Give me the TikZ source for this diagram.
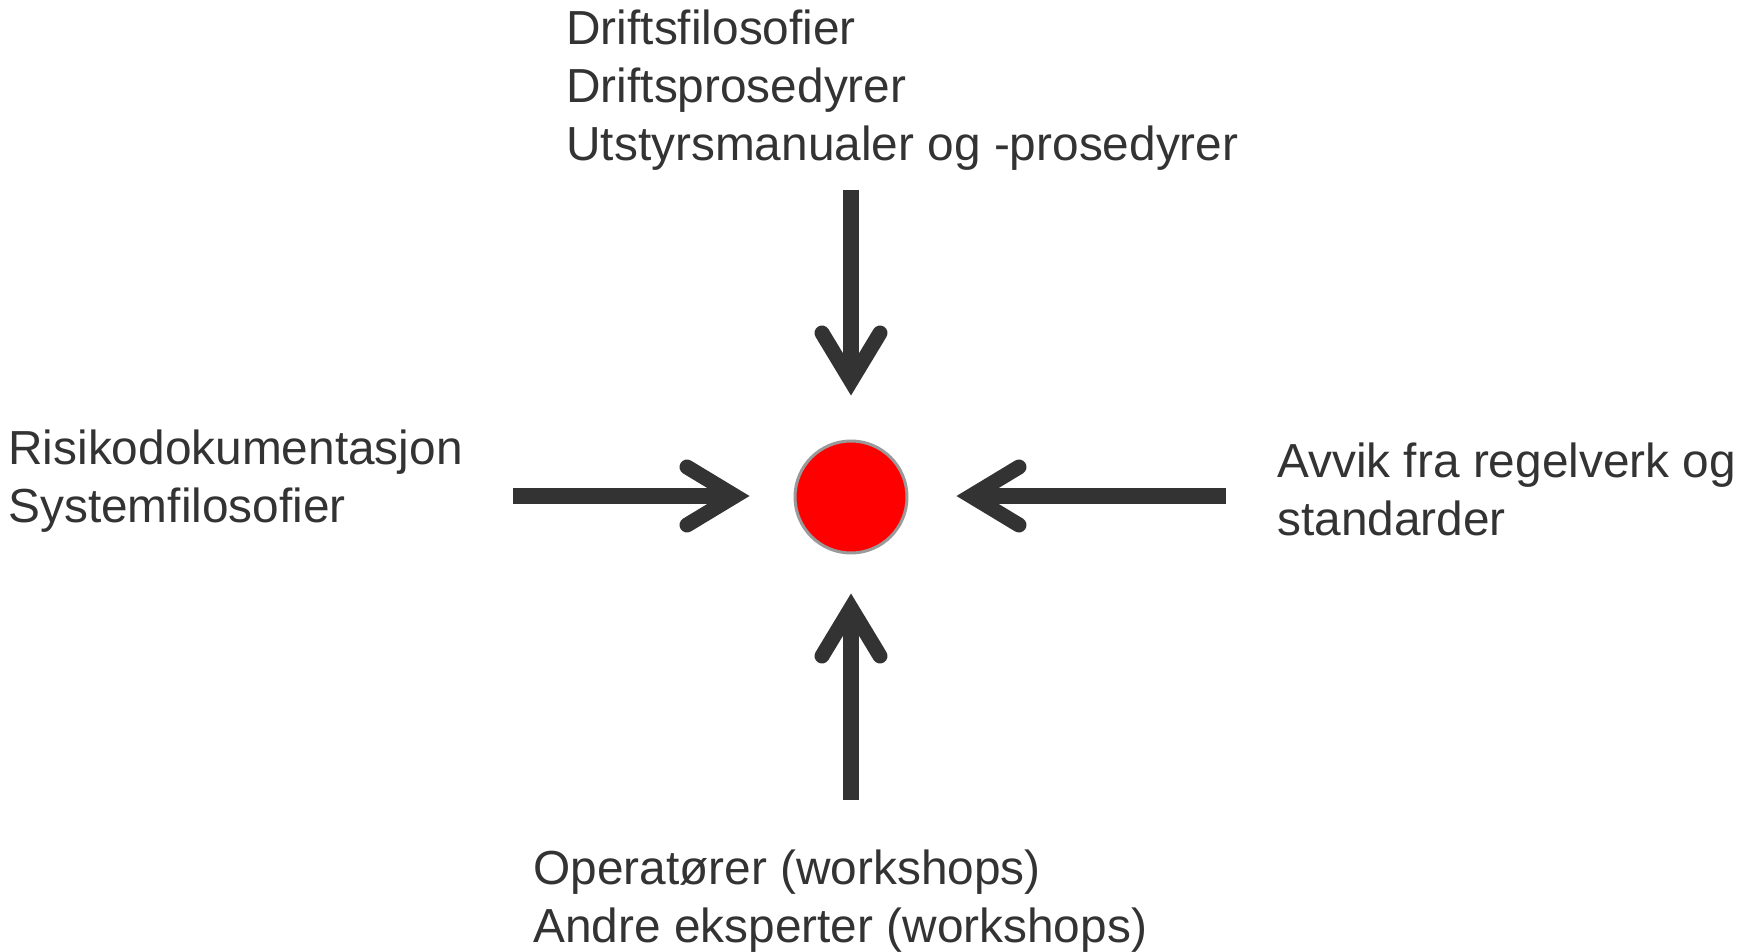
\documentclass[tikz,border=0pt]{standalone}
\usepackage{fontspec}
\setmainfont{Liberation Sans}
\usetikzlibrary{arrows.meta}
\definecolor{ink}{HTML}{333333}
\definecolor{rim}{HTML}{9A9A9A}
\begin{document}
\begin{tikzpicture}[x=0.5pt,y=-0.5pt,
  label text/.style={anchor=base west, inner sep=0pt, align=left, text=ink,
    font=\fontsize{23.9pt}{29pt}\selectfont},
  flow/.style={draw=ink, line width=8pt,
    -{Straight Barb[length=24pt, width=29pt, line width=7.5pt, line cap=round, line join=miter]}},
  hub/.style={circle, fill=red, draw=rim, line width=1.5pt, minimum size=56pt, inner sep=0pt}]
  \useasboundingbox (0,0) rectangle (1752,952);

  % central point
  \node[hub] (dot) at (851,497) {};

  % sources of information (anchored at the baseline of their last line)
  \node[label text] (top) at (566,161) {Driftsfilosofier\\Driftsprosedyrer\\Utstyrsmanualer og -prosedyrer};
  \node[label text] (left) at (8,522) {Risikodokumentasjon\\Systemfilosofier};
  \node[label text] (right) at (1277,535) {Avvik fra regelverk og\\standarder};
  \node[label text] (bottom) at (533,942) {Operatører (workshops)\\Andre eksperter (workshops)};

  % free ends of the arrows
  \coordinate (tstart) at (851,190);
  \coordinate (bstart) at (851,800);
  \coordinate (lstart) at (513,496);
  \coordinate (rstart) at (1226,496);

  \draw[flow, shorten >=22pt] (tstart) -- (dot);
  \draw[flow, shorten >=19.5pt] (bstart) -- (dot);
  \draw[flow, shorten >=22pt] (lstart) -- (dot.west |- lstart);
  \draw[flow, shorten >=24pt] (rstart) -- (dot.east |- rstart);
\end{tikzpicture}
\end{document}
